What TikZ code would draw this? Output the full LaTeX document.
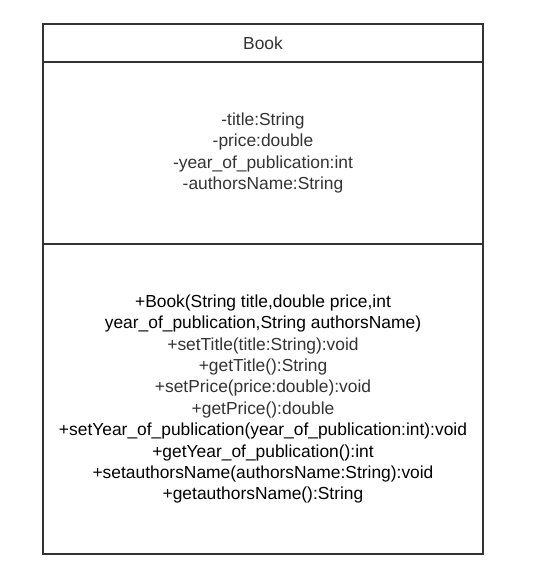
\documentclass[tikz,border=0pt]{standalone}
\usepackage{fontspec}
\setmainfont{Liberation Sans}
\usepackage{xcolor}
\usepackage{tikz}
\usetikzlibrary{positioning}
\definecolor{umlgray}{HTML}{333333}

\begin{document}
\begin{tikzpicture}[x=1pt,y=-1pt,
    compartment/.style={draw=umlgray, line width=1.6pt, rectangle, outer sep=0pt,
        inner sep=0pt, minimum width=440pt, align=center,
        font=\fontsize{17.4}{21.4}\selectfont}]
    % Canvas
    \useasboundingbox (0,0) rectangle (535,580);
    
    % Class name
    \node[compartment, minimum height=38pt, anchor=north west, text=umlgray] (name) at (43,24) {Book};
    
    % Attributes
    \node[compartment, minimum height=182pt, below=0pt of name, text=umlgray] (attrs) {-title:String\\
        -price:double\\
        -year\_of\_publication:int\\
        -authorsName:String};
    
    % Methods
    \node[compartment, minimum height=310pt, below=0pt of attrs] (methods) {+Book(String title,double price,int\\
        year\_of\_publication,String authorsName)\\
        \textcolor{umlgray}{+setTitle(title:String):void}\\
        \textcolor{umlgray}{+getTitle():String}\\
        \textcolor{umlgray}{+setPrice(price:double):void}\\
        \textcolor{umlgray}{+getPrice():double}\\
        +setYear\_of\_publication(year\_of\_publication:int):void\\
        +getYear\_of\_publication():int\\
        +setauthorsName(authorsName:String):void\\
        +getauthorsName():String};
\end{tikzpicture}
\end{document}
